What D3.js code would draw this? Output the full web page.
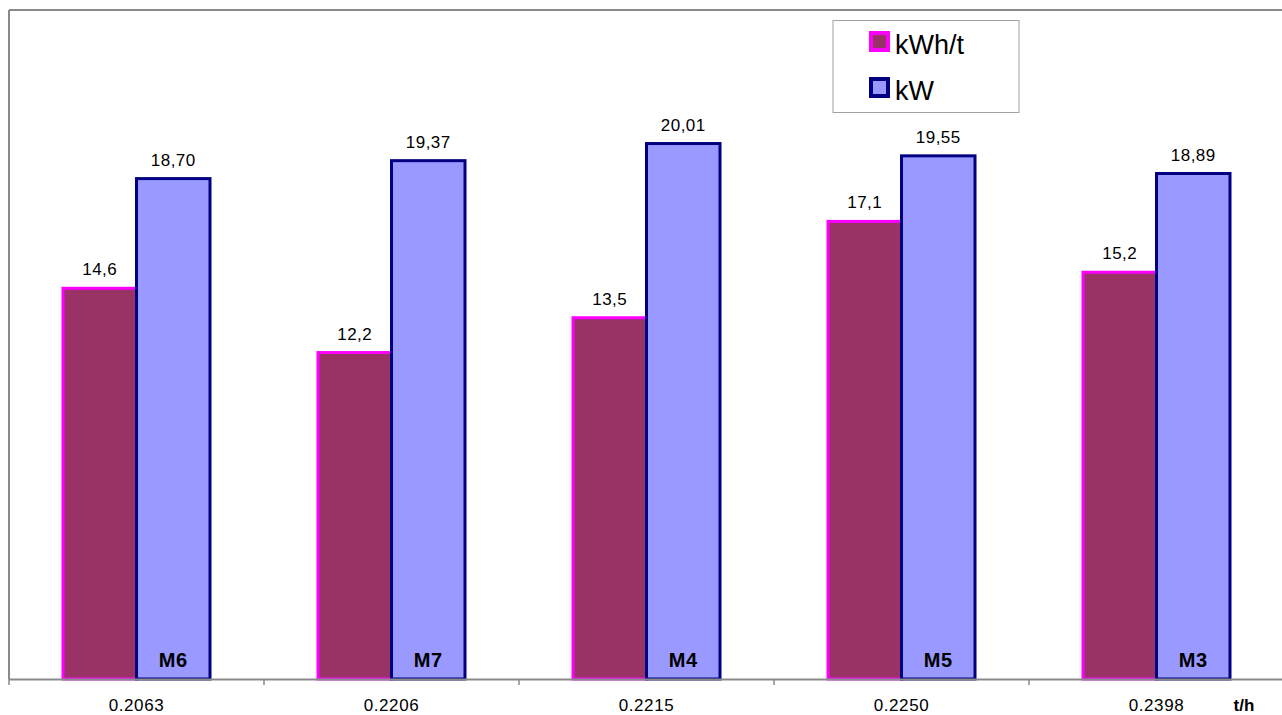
<!DOCTYPE html>
<html>
<head>
<meta charset="utf-8">
<script src="https://cdn.jsdelivr.net/npm/d3@7"></script>
<style>
  html, body { margin: 0; padding: 0; background: #fff; }
  svg { display: block; }
  text { font-family: "Liberation Sans", Arial, sans-serif; }
</style>
</head>
<body>
<svg id="chart" width="1282" height="715"></svg>
<script>
// ---- data ----
const categories = ["0.2063", "0.2206", "0.2215", "0.2250", "0.2398"];
const machines = ["M6", "M7", "M4", "M5", "M3"];
const seriesNames = ["kWh/t", "kW"];
const kwhPerT = [14.6, 12.2, 13.5, 17.1, 15.2];
const kwhLabels = ["14,6", "12,2", "13,5", "17,1", "15,2"];
const kw = [18.70, 19.37, 20.01, 19.55, 18.89];
const kwLabels = ["18,70", "19,37", "20,01", "19,55", "18,89"];
const xUnit = "t/h";

(function () {
// ---- layout ----
const svg = d3.select("#chart");
const pLeft = 9, pTop = 10, pBottom = 679, bandW = 255;
const pRight = pLeft + bandW * categories.length;

const x = d3.scaleBand().domain(categories).range([pLeft, pRight]).paddingInner(0).paddingOuter(0);
const x1 = d3.scaleBand().domain(seriesNames).range([54, bandW - 54]).padding(0);
const y = d3.scaleLinear().domain([0, 25]).range([pBottom, pTop]);

const fills = { "kWh/t": "#993366", "kW": "#9999FF" };
const strokes = { "kWh/t": "#FF00FF", "kW": "#000080" };

// frame (top + left)
svg.append("line").attr("x1", pLeft).attr("x2", 1282).attr("y1", pTop).attr("y2", pTop)
  .attr("stroke", "#8a8a8a").attr("stroke-width", 2);
svg.append("line").attr("x1", pLeft).attr("x2", pLeft).attr("y1", pTop).attr("y2", pBottom)
  .attr("stroke", "#8a8a8a").attr("stroke-width", 2);

const data = categories.map((c, i) => ({
  cat: c, m: machines[i],
  vals: [
    { s: "kWh/t", v: kwhPerT[i], lab: kwhLabels[i] },
    { s: "kW", v: kw[i], lab: kwLabels[i] }
  ]
}));

const g = svg.append("g");
const groups = g.selectAll("g.grp").data(data).enter().append("g")
  .attr("transform", d => `translate(${x(d.cat)},0)`);

groups.selectAll("rect").data(d => d.vals).enter().append("rect")
  .attr("x", d => x1(d.s))
  .attr("y", d => y(d.v))
  .attr("width", x1.bandwidth())
  .attr("height", d => y(0) - y(d.v))
  .attr("fill", d => fills[d.s])
  .attr("stroke", d => strokes[d.s])
  .attr("stroke-width", 3);

groups.selectAll("text.val").data(d => d.vals).enter().append("text")
  .attr("class", "val")
  .attr("x", d => x1(d.s) + x1.bandwidth() / 2)
  .attr("y", d => y(d.v) - 13)
  .attr("text-anchor", "middle")
  .attr("font-size", 17)
  .attr("letter-spacing", 0.5)
  .attr("fill", "#000")
  .text(d => d.lab);

groups.append("text")
  .attr("x", x1("kW") + x1.bandwidth() / 2)
  .attr("y", pBottom - 12)
  .attr("text-anchor", "middle")
  .attr("font-size", 20)
  .attr("letter-spacing", 0.5)
  .attr("font-weight", "bold")
  .attr("fill", "#000")
  .text(d => d.m);

// x axis
svg.append("line").attr("x1", pLeft).attr("x2", 1282).attr("y1", pBottom + 0.5).attr("y2", pBottom + 0.5)
  .attr("stroke", "#8a8a8a").attr("stroke-width", 2);
const boundaries = categories.map(c => x(c));
svg.selectAll("line.tick").data(boundaries).enter().append("line")
  .attr("x1", d => d).attr("x2", d => d).attr("y1", pBottom).attr("y2", pBottom + 6)
  .attr("stroke", "#8a8a8a").attr("stroke-width", 1.5);
svg.selectAll("text.xl").data(categories).enter().append("text")
  .attr("x", d => x(d) + x.bandwidth() / 2)
  .attr("y", 711)
  .attr("text-anchor", "middle")
  .attr("font-size", 17)
  .attr("letter-spacing", 0.6)
  .attr("fill", "#000")
  .text(d => d);
svg.append("text").attr("x", 1244).attr("y", 711).attr("text-anchor", "middle")
  .attr("font-size", 17).attr("font-weight", "bold").text(xUnit);

// legend
const lg = svg.append("g");
lg.append("rect").attr("x", 833).attr("y", 20.5).attr("width", 186).attr("height", 92)
  .attr("fill", "#fff").attr("stroke", "#a0a0a0").attr("stroke-width", 1);
seriesNames.forEach((s, i) => {
  const yy = 33 + i * 46;
  lg.append("rect").attr("x", 871).attr("y", yy).attr("width", 17).attr("height", 17)
    .attr("fill", fills[s]).attr("stroke", strokes[s]).attr("stroke-width", 4);
  lg.append("text").attr("x", 895).attr("y", yy + 21).attr("font-size", 27)
    .attr("font-family", "'Open Sans', sans-serif").attr("fill", "#000").text(s);
});
})();
</script>
</body>
</html>
